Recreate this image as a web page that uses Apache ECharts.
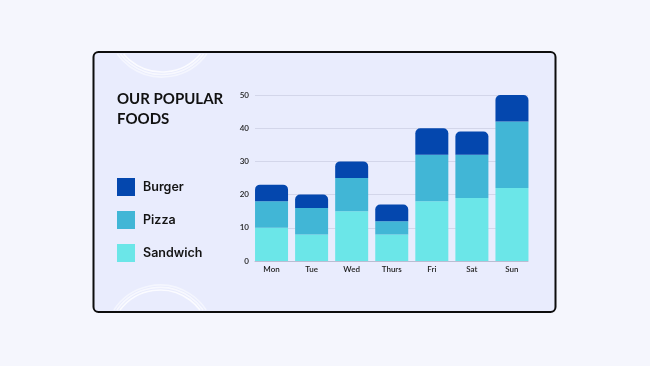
<!DOCTYPE html>
<html>
<head>
<meta charset="utf-8">
<script src="https://cdn.jsdelivr.net/npm/echarts@6/dist/echarts.min.js"></script>
<style>html,body{margin:0;padding:0;background:#f5f6fd;}#c{width:650px;height:366px;}</style>
</head>
<body>
<div id="c"></div>
<script>
const categories = ['Mon', 'Tue', 'Wed', 'Thurs', 'Fri', 'Sat', 'Sun'];
const sandwich = [10, 8, 15, 8, 18, 19, 22];
const pizza = [8, 8, 10, 4, 14, 13, 20];
const burger = [5, 4, 5, 5, 8, 7, 8];
const yTicks = [0, 10, 20, 30, 40, 50];
const titleLines = ['OUR POPULAR', 'FOODS'];

const chart = echarts.init(document.getElementById('c'), null, {renderer: 'canvas'});
const FONT = 'Lato, Inter, "Noto Sans", sans-serif';
const LFONT = 'Inter, "Noto Sans", sans-serif';

const deg = Math.PI / 180;
function rings(cx, cy, radii, edgeY, top) {
  return radii.map((r, i) => {
    const dy = Math.abs(edgeY - cy);
    const a = Math.asin(Math.min(1, dy / r)) / deg;
    const a0 = top ? a : 180 + a;
    const a1 = top ? 180 - a : 360 - a;
    return {
      type: 'arc', z: -5,
      shape: {cx: cx, cy: cy, r: r, startAngle: a0 * deg, endAngle: a1 * deg, clockwise: true},
      style: {stroke: '#ffffff', lineWidth: 1.6, fill: null, opacity: 0.8 - i * 0.15}
    };
  });
}

const option = {
  backgroundColor: '#f5f6fd',
  animation: false,
  graphic: [
    {type: 'rect', z: -10, shape: {x: 93.5, y: 52, width: 462, height: 260, r: 5},
     style: {fill: '#e9ecfd', stroke: '#0d0d0d', lineWidth: 2}},
    ...rings(162, 22, [50, 52.5, 55], 54, true),
    ...rings(160, 340, [50, 52.5, 55], 310, false),
    {type: 'text', left: 117, top: 89.5, z: 5,
     style: {text: titleLines.join('\n'), font: 'bold 15px ' + FONT, fill: '#111111', lineHeight: 20}}
  ],
  legend: {
    orient: 'vertical', left: 117, top: 178, padding: 0,
    itemWidth: 18, itemHeight: 18, itemGap: 15, icon: 'rect',
    data: ['Burger', 'Pizza', 'Sandwich'],
    textStyle: {fontFamily: LFONT, fontSize: 12.5, fontWeight: 600, color: '#141414', padding: [0, 0, 0, 3]}
  },
  grid: [
    {left: 251.5, right: 118, top: 95, bottom: 105},
    {left: 255, right: 122, top: 95, bottom: 105}
  ],
  xAxis: [
    {type: 'category', gridIndex: 0, data: categories,
     axisLine: {show: false}, axisTick: {show: false},
     axisLabel: {fontFamily: FONT, fontSize: 8, fontWeight: 600, color: '#222', margin: 4}},
    {type: 'value', gridIndex: 1, min: 0, max: 1, show: true,
     axisLine: {show: true, onZero: false, lineStyle: {color: '#b9bdd3', width: 1}},
     axisTick: {show: false}, axisLabel: {show: false}, splitLine: {show: false}}
  ],
  yAxis: [
    {type: 'value', gridIndex: 0, min: 0, max: 50, interval: 10,
     axisLabel: {show: false}, splitLine: {show: false}, axisLine: {show: false}, axisTick: {show: false}},
    {type: 'value', gridIndex: 1, min: 0, max: 50, interval: 10,
     axisLine: {show: false}, axisTick: {show: false},
     axisLabel: {fontFamily: FONT, fontSize: 8, fontWeight: 600, color: '#222', margin: 6,
       formatter: v => yTicks.includes(v) ? String(v) : ''},
     splitLine: {lineStyle: {color: '#d3d6ea', width: 1}}}
  ],
  series: [
    {name: 'Sandwich', type: 'bar', stack: 'f', data: sandwich, barWidth: 33, z: 3,
     itemStyle: {color: '#6be6e8'}},
    {name: 'Pizza', type: 'bar', stack: 'f', data: pizza, barWidth: 33, z: 3,
     itemStyle: {color: '#41b6d6'}},
    {name: 'Burger', type: 'bar', stack: 'f', data: burger, barWidth: 33, z: 3,
     itemStyle: {color: '#0447ae', borderRadius: [5, 5, 0, 0]}}
  ]
};
chart.setOption(option);
</script>
</body>
</html>
